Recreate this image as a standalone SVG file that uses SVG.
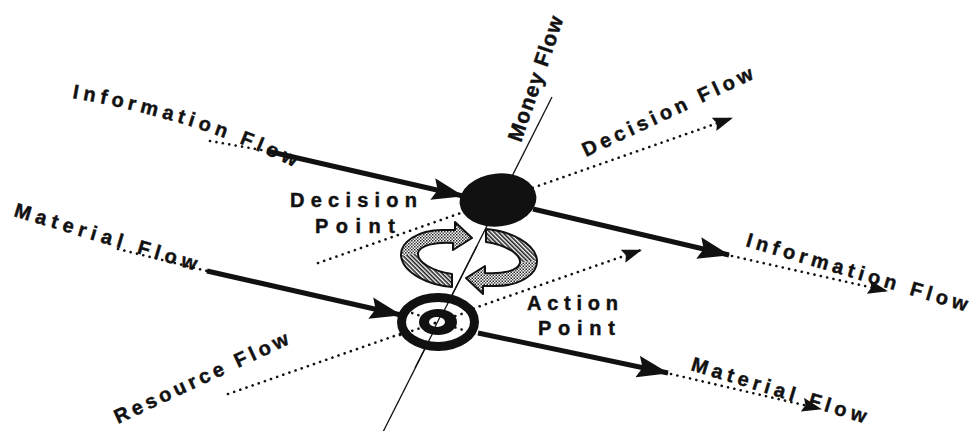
<svg xmlns="http://www.w3.org/2000/svg" width="974" height="431" viewBox="0 0 974 431">
<style>
.lbl{font-family:"Liberation Sans",Arial,sans-serif;font-weight:bold;fill:#111;stroke:#111;stroke-width:0.45;}
.thick{stroke:#111;stroke-width:5;fill:none;}
.dot{stroke:#111;stroke-width:2.6;fill:none;stroke-dasharray:0.1 6.4;stroke-linecap:round;}
.thin{stroke:#111;stroke-width:1.3;fill:none;}
</style>
<defs>
<marker id="big" markerUnits="userSpaceOnUse" markerWidth="32" markerHeight="22" viewBox="0 0 32 22" refX="31" refY="11" orient="auto">
<path d="M0,0 L32,11 L0,22 L5,11 z" fill="#111"/>
</marker>
<marker id="small" markerUnits="userSpaceOnUse" markerWidth="20" markerHeight="14" viewBox="0 0 20 14" refX="19" refY="7" orient="auto">
<path d="M0,0 L20,7 L0,14 L3,7 z" fill="#111"/>
</marker>
<pattern id="check" width="3" height="3" patternUnits="userSpaceOnUse">
<rect width="3" height="3" fill="#fff"/>
<rect width="1.5" height="1.5" fill="#222"/>
<rect x="1.5" y="1.5" width="1.5" height="1.5" fill="#555"/>
</pattern>
<pattern id="stripe" width="3" height="3" patternUnits="userSpaceOnUse" patternTransform="rotate(45)">
<rect width="3" height="3" fill="#fff"/>
<rect width="3" height="1.6" fill="#222"/>
</pattern>
<path id="arc-info-left" d="M72,98 Q200,120 304,172"/>
<g id="cyc">
<path d="M452,287 C428,285 403,273 401,256 L418,253 C417,262 432,271 452,274 Z" fill="url(#stripe)"/>
<path d="M401,256 C400,242 418,230 442,230 L455,230 L455,222 L472,238 L453,250 L453,243 C435,242 420,245 418,253 Z" fill="url(#check)"/>
<path d="M452,287 C428,285 403,273 401,256 C400,242 418,230 442,230 L455,230 L455,222 L472,238 L453,250 L453,243 C435,242 420,245 418,253 C417,262 432,271 452,274 Z" fill="none" stroke="#111" stroke-width="2" stroke-linejoin="round"/>
</g>
</defs>

<g id="connectors">
<line id="money-line" class="thin" x1="552" y1="97" x2="383" y2="432"/>
<line id="decision-flow" class="dot" x1="318" y1="263" x2="732" y2="118" marker-end="url(#small)"/>
<line id="resource-flow" class="dot" x1="228" y1="394" x2="641" y2="250" marker-end="url(#small)"/>
<line class="dot" x1="210" y1="141" x2="267" y2="151"/>
<line id="info-in" class="thick" x1="267" y1="151" x2="463" y2="196" marker-end="url(#big)"/>
<line id="info-out" class="thick" x1="533" y1="209" x2="729" y2="255" marker-end="url(#big)"/>
<line class="dot" x1="732" y1="256" x2="887" y2="291" marker-end="url(#small)"/>
<line class="dot" x1="118" y1="249" x2="207" y2="271"/>
<line id="material-in" class="thick" x1="207" y1="271" x2="401" y2="315" marker-end="url(#big)"/>
<line id="material-out" class="thick" x1="478" y1="333" x2="668" y2="373" marker-end="url(#big)"/>
<line class="dot" x1="671" y1="374" x2="821" y2="409" marker-end="url(#small)"/>
</g>

<g id="decision-point">
<ellipse cx="498" cy="200" rx="38.5" ry="26.5" transform="rotate(-6 498 200)" fill="#111"/>
</g>

<g id="action-point">
<ellipse cx="438" cy="322" rx="37" ry="25" fill="#fff"/>
<line class="thin" x1="477" y1="246" x2="415" y2="368"/>
<line class="dot" x1="400" y1="335" x2="476" y2="309"/>
<line class="dot" x1="406" y1="311" x2="466" y2="331"/>
<ellipse cx="438" cy="322" rx="36.5" ry="24.5" fill="none" stroke="#111" stroke-width="9"/>
<ellipse cx="438" cy="322" rx="19" ry="13" fill="#111"/>
<ellipse cx="437" cy="322" rx="8" ry="5" fill="#fff"/>
<line class="thin" x1="441" y1="315" x2="434" y2="329"/>
<circle cx="435" cy="323" r="1.6" fill="#111"/>
</g>

<g id="cycle-arrows">
<use id="cycle-left" href="#cyc"/>
<use id="cycle-right" href="#cyc" transform="rotate(180 469 258)"/>
</g>

<g id="labels">
<text class="lbl" font-size="20" letter-spacing="4.8"><textPath href="#arc-info-left">Information Flow</textPath></text>
<text class="lbl" font-size="20" transform="translate(13,216) rotate(16.7)" textLength="190" lengthAdjust="spacing">Material Flow</text>
<text class="lbl" font-size="21" letter-spacing="1.2" transform="translate(521,143) rotate(-71)">Money Flow</text>
<text class="lbl" font-size="20" transform="translate(586,157) rotate(-25)" textLength="186" lengthAdjust="spacing">Decision Flow</text>
<text class="lbl" font-size="20" transform="translate(745,246) rotate(16.5)" textLength="230" lengthAdjust="spacing">Information Flow</text>
<text class="lbl" font-size="20" transform="translate(690,370) rotate(17)" textLength="182" lengthAdjust="spacing">Material Flow</text>
<text class="lbl" font-size="20" transform="translate(118,424) rotate(-25)" textLength="190" lengthAdjust="spacing">Resource Flow</text>
<text class="lbl" font-size="20" x="290" y="207" textLength="127" lengthAdjust="spacing">Decision</text>
<text class="lbl" font-size="20" x="315" y="233" textLength="80" lengthAdjust="spacing">Point</text>
<text class="lbl" font-size="20" x="527" y="310" textLength="91" lengthAdjust="spacing">Action</text>
<text class="lbl" font-size="20" x="538" y="335" textLength="77" lengthAdjust="spacing">Point</text>
</g>
</svg>
